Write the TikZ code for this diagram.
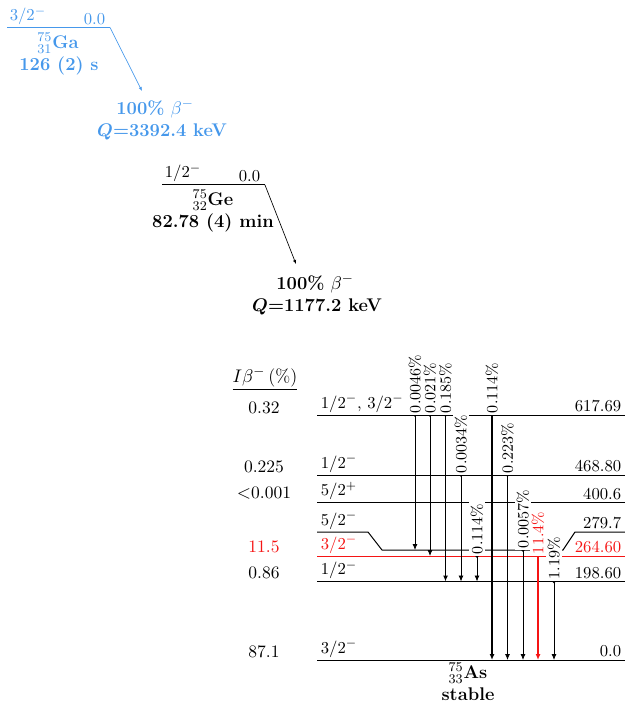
\documentclass[tikz,border=0pt]{standalone}
\usepackage{amsmath}
\usetikzlibrary{arrows.meta}
\definecolor{gablue}{RGB}{70,152,235}
\definecolor{hired}{RGB}{245,20,20}
\begin{document}
\begin{tikzpicture}[x=0.6pt,y=-0.6pt,
  lvl/.style={line width=0.6pt},
  gam/.style={-{Latex[length=3.6pt,width=3pt]},line width=0.5pt},
  gamthick/.style={gam,line width=1.1pt},
  decay/.style={-{Latex[length=2.4pt,width=2pt]},line width=0.4pt},
  glab/.style={rotate=90,anchor=west,fill=white,inner sep=1pt,font=\fontsize{9.4}{11}\selectfont},
  spin/.style={anchor=south west,inner sep=1.5pt},
  ener/.style={anchor=south east,inner sep=1.5pt},
  ctr/.style={anchor=center,inner sep=0pt},
  big/.style={ctr,font=\fontsize{11}{13}\selectfont},
  ibcol/.style={ctr,font=\fontsize{10.5}{12.5}\selectfont},
  dotr/.style={circle,fill,inner sep=0pt,minimum size=2.2pt},
]
\useasboundingbox (0,0) rectangle (625,706);

% ---------- 75Ga ----------
\begin{scope}[gablue]
\draw[line width=0.6pt] (7,27.5) coordinate (gaL) -- (110,27.5) coordinate (gaR);
\node[spin] (gaspin) at (gaL) {3/2$^-$};
\node[ener] (gaen) at (108,27.5) {0.0};
\node[big] (ganuc) at (58,43) {$^{75}_{31}$\textbf{Ga}};
\node[big] (gahl) at (59,66) {\textbf{126 (2) s}};
\coordinate (gaend) at (142,91);
\draw[decay] (gaR) -- (gaend);
\node[big] (gabr) at (155,109) {\textbf{100\%} $\beta^-$};
\node[big] (gaq) at (162,132) {\textbf{\boldmath$Q$=3392.4 keV}};
\end{scope}

% ---------- 75Ge ----------
\draw[line width=0.6pt] (162,185) coordinate (geL) -- (265,185) coordinate (geR);
\node[spin] (gespin) at (geL) {1/2$^-$};
\node[ener] (geen) at (263,185) {0.0};
\node[big] (genuc) at (213,200) {$^{75}_{32}$\textbf{Ge}};
\node[big] (gehl) at (213,223) {\textbf{82.78 (4) min}};
\coordinate (geend) at (296,264);
\draw[decay] (geR) -- (geend);
\node[big] (gebr) at (315,284) {\textbf{100\%} $\beta^-$};
\node[big] (geq) at (317,307) {\textbf{\boldmath$Q$=1177.2 keV}};

% ---------- 75As levels ----------
\draw[lvl] (317,415) -- (625,415);
\draw[lvl] (317,475) -- (625,475);
\draw[lvl] (317,502.5) -- (625,502.5);
\draw[lvl] (317,532) -- (368,532) -- (382,550) -- (563,550) -- (575,532) -- (625,532);
\draw[lvl,hired] (317,556) -- (625,556);
\draw[lvl] (317,581.5) -- (625,581.5);
\draw[lvl] (317,660) -- (625,660);

% spins
\node[spin] (s617) at (318,415) {1/2$^-$, 3/2$^-$};
\node[spin] (s468) at (318,475) {1/2$^-$};
\node[spin] (s400) at (318,502.5) {5/2$^+$};
\node[spin] (s279) at (318,532) {5/2$^-$};
\node[spin,text=hired] (s264) at (318,556) {3/2$^-$};
\node[spin] (s198) at (318,581.5) {1/2$^-$};
\node[spin] (s0) at (318,660) {3/2$^-$};

% energies
\node[ener] (e617) at (624,415) {617.69};
\node[ener] (e468) at (624,475) {468.80};
\node[ener] (e400) at (624,502.5) {400.6};
\node[ener] (e279) at (624,532) {279.7};
\node[ener,text=hired] (e264) at (624,556) {264.60};
\node[ener] (e198) at (624,581.5) {198.60};
\node[ener] (e0) at (624,660) {0.0};

% beta intensities
\node[big] (ibh) at (265,379) {\underline{$I\beta^-$\,(\%)}};
\node[ibcol] (i617) at (264,408) {0.32};
\node[ibcol] (i468) at (264,467) {0.225};
\node[ibcol] (i400) at (264,493) {$<$0.001};
\node[ibcol,text=hired] (i264) at (264,547) {11.5};
\node[ibcol] (i198) at (264,573) {0.86};
\node[ibcol] (i0) at (264,652) {87.1};

% gamma coordinates
\coordinate (g1s) at (415,415);   \coordinate (g1e) at (415,550);
\coordinate (g2s) at (430,415);   \coordinate (g2e) at (430,556);
\coordinate (g3s) at (445.5,415); \coordinate (g3e) at (445.5,581.5);
\coordinate (g4s) at (461,475);   \coordinate (g4e) at (461,581.5);
\coordinate (g5s) at (492,415);   \coordinate (g5e) at (492,660);
\coordinate (g6s) at (507.5,475); \coordinate (g6e) at (507.5,660);
\coordinate (g7s) at (477,556);   \coordinate (g7e) at (477,581.5);
\coordinate (g8s) at (523,550);   \coordinate (g8e) at (523,660);
\coordinate (g9s) at (538,556);   \coordinate (g9e) at (538,660);
\coordinate (g10s) at (554,581.5); \coordinate (g10e) at (554,660);

\draw[gam] (g1s) -- (g1e);
\draw[gam] (g2s) -- (g2e);
\draw[gamthick] (g3s) -- (g3e);
\draw[gam] (g4s) -- (g4e);
\draw[gamthick] (g5s) -- (g5e);
\draw[gam] (g6s) -- (g6e);
\draw[gam] (g7s) -- (g7e);
\draw[gam] (g8s) -- (g8e);
\draw[gamthick,hired] (g9s) -- (g9e);
\draw[gam] (g10s) -- (g10e);

\foreach \p in {g1s,g2s,g3s,g4s,g5s,g6s,g7s,g8s,g10s} \node[dotr] at (\p) {};
\node[dotr,hired] at (g9s) {};

\node[glab] (t1) at (g1s) {0.0046\%};
\node[glab] (t2) at (g2s) {0.021\%};
\node[glab] (t3) at (g3s) {0.185\%};
\node[glab] (t4) at (g4s) {0.0034\%};
\node[glab] (t5) at (g5s) {0.114\%};
\node[glab] (t6) at (g6s) {0.223\%};
\node[glab] (t7) at (g7s) {0.114\%};
\node[glab] (t8) at (g8s) {0.0057\%};
\node[glab,text=hired] (t9) at (g9s) {11.4\%};
\node[glab] (t10) at (g10s) {1.19\%};

% As label
\node[big] (asnuc) at (468,673) {$^{75}_{33}$\textbf{As}};
\node[big] (asst) at (468,694) {\textbf{stable}};
\end{tikzpicture}
\end{document}
